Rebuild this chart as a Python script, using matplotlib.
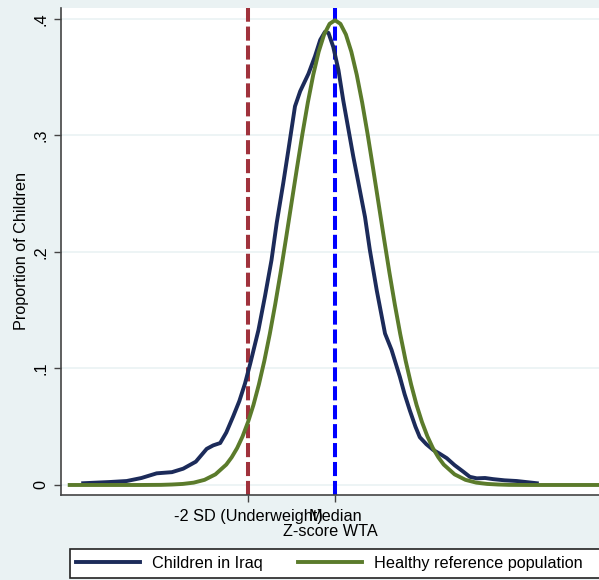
import matplotlib.pyplot as plt
from matplotlib.lines import Line2D
from matplotlib.patches import Rectangle

plt.rcParams['font.family'] = ['Liberation Sans', 'DejaVu Sans']

# Kernel density of WTA z-scores, children in Iraq
iraq_z = [-5.79, -5.2, -4.79, -4.45, -4.10, -3.75, -3.49, -3.2, -2.95, -2.80,
          -2.64, -2.50, -2.34, -2.20, -2.07, -1.95, -1.76, -1.61, -1.46, -1.34,
          -1.19, -1.07, -0.92, -0.80, -0.61, -0.46, -0.34, -0.23, -0.15, -0.04,
          0.08, 0.19, 0.31, 0.42, 0.54, 0.69, 0.80, 0.96, 1.15, 1.30,
          1.49, 1.60, 1.72, 1.85, 1.95, 2.10, 2.26, 2.40, 2.57, 2.75,
          2.95, 3.10, 3.26, 3.45, 3.64, 3.90, 4.18, 4.64]
iraq_dens = [0.0015, 0.0025, 0.0034, 0.006, 0.010, 0.011, 0.014, 0.020, 0.031, 0.034,
             0.036, 0.045, 0.059, 0.072, 0.087, 0.104, 0.133, 0.162, 0.193, 0.225,
             0.259, 0.288, 0.325, 0.338, 0.353, 0.368, 0.382, 0.389, 0.388, 0.376,
             0.356, 0.330, 0.305, 0.282, 0.259, 0.230, 0.202, 0.167, 0.130, 0.116,
             0.093, 0.078, 0.064, 0.050, 0.041, 0.035, 0.030, 0.027, 0.023, 0.017,
             0.0114, 0.007, 0.0057, 0.006, 0.005, 0.004, 0.0034, 0.0015]

# Healthy reference population
ref_z = [-6.1, -4.5, -4.0, -3.75, -3.5, -3.25, -3.0, -2.75, -2.5, -2.375, -2.25,
         -2.125, -2.0, -1.875, -1.75, -1.625, -1.5, -1.375, -1.25, -1.125, -1.0,
         -0.875, -0.75, -0.625, -0.5, -0.375, -0.25, -0.125, 0.0,
         0.125, 0.25, 0.375, 0.5, 0.625, 0.75, 0.875, 1.0, 1.125, 1.25, 1.375,
         1.5, 1.625, 1.75, 1.875, 2.0, 2.125, 2.25, 2.375, 2.5, 2.75, 3.0, 3.25,
         3.5, 3.75, 4.0, 4.5, 6.3]
ref_dens = [0.0, 0.0, 0.0001, 0.0004, 0.0009, 0.0020, 0.0044, 0.0091, 0.0175, 0.0238, 0.0317,
            0.0417, 0.0540, 0.0687, 0.0863, 0.1065, 0.1295, 0.1550, 0.1826, 0.2119, 0.2420,
            0.2719, 0.3011, 0.3282, 0.3521, 0.3719, 0.3867, 0.3958, 0.3989,
            0.3958, 0.3867, 0.3719, 0.3521, 0.3282, 0.3011, 0.2719, 0.2420, 0.2119, 0.1826, 0.1550,
            0.1295, 0.1065, 0.0863, 0.0687, 0.0540, 0.0417, 0.0317, 0.0238, 0.0175, 0.0091, 0.0044, 0.0020,
            0.0009, 0.0004, 0.0001, 0.0, 0.0]

xticks = [-2, 0]
xtick_labels = ['-2 SD (Underweight)', 'Median']
yticks = [0, 0.1, 0.2, 0.3, 0.4]
ytick_labels = ['0', '.1', '.2', '.3', '.4']

bg = '#EAF2F3'
navy = '#1C2B5A'
green = '#5B7B2B'
fs = 11.7

fig = plt.figure(figsize=(5.99, 5.80), dpi=100, facecolor=bg)
ax = fig.add_axes([61 / 599, 85 / 580, 1 - 61 / 599, 487 / 580])
ax.set_facecolor('white')

ax.axvline(-2, color='#A0323C', lw=2.9, ls=(0, (3.5, 1.2)), zorder=2)
ax.axvline(0, color='#0000FF', lw=2.9, ls=(0, (3.5, 1.2)), zorder=2)
ax.plot(iraq_z, iraq_dens, color=navy, lw=2.8, zorder=3, solid_joinstyle='round')
ax.plot(ref_z, ref_dens, color=green, lw=2.8, zorder=3, solid_joinstyle='round')

ax.set_xlim(-6.3, 6.07)
ax.set_ylim(-0.0086, 0.4094)
ax.set_yticks(yticks)
ax.set_yticklabels(ytick_labels, rotation=90, va='center', fontsize=fs)
ax.set_xticks(xticks)
ax.set_xticklabels(xtick_labels, fontsize=fs)
ax.tick_params(axis='both', direction='out', length=5, width=1, color='#444444')
ax.tick_params(axis='x', pad=5)
ax.tick_params(axis='y', pad=4)
ax.grid(axis='y', color=bg, lw=1.2)
ax.set_axisbelow(True)
for s in ['top', 'right']:
    ax.spines[s].set_visible(False)
for s in ['left', 'bottom']:
    ax.spines[s].set_color('#444444')
    ax.spines[s].set_linewidth(1.2)

ax.set_ylabel('Proportion of Children', fontsize=fs, labelpad=3)
ax.set_xlabel('Z-score WTA', fontsize=fs, labelpad=0)

fig.patches.append(Rectangle((70 / 599, 2 / 580), 0.95, 29 / 580, transform=fig.transFigure,
                             facecolor='white', edgecolor='#222222', lw=1.2))
handles = [Line2D([], [], color=navy, lw=2.8), Line2D([], [], color=green, lw=2.8)]
fig.legend(handles, ['Children in Iraq', 'Healthy reference population'],
           loc='center left', bbox_to_anchor=(76 / 599, 16.5 / 580), ncol=2,
           frameon=False, fontsize=fs, handlelength=3.94, handletextpad=0.74,
           columnspacing=2.15, borderaxespad=0, borderpad=0)

fig.savefig('out.png', dpi=100, facecolor=bg)
